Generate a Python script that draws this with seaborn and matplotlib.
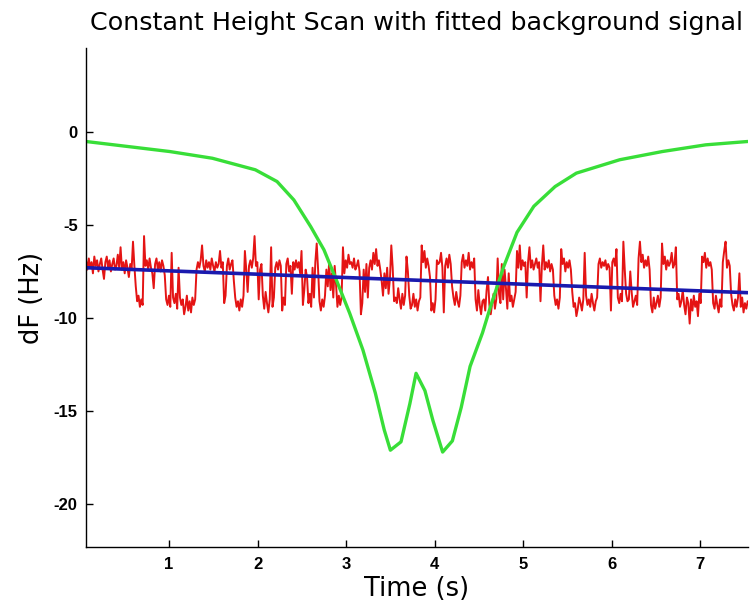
import numpy as np
import pandas as pd
import matplotlib
matplotlib.use("Agg")
import matplotlib.pyplot as plt
import seaborn as sns

# ---- data ----
green_t = [0.063, 1.01, 1.49, 1.975, 2.22, 2.41, 2.60, 2.75, 2.89, 3.04, 3.19, 3.33, 3.43,
           3.50, 3.62, 3.72, 3.79, 3.89, 3.98, 4.09, 4.20, 4.30, 4.40, 4.54, 4.63, 4.78,
           4.93, 5.12, 5.36, 5.60, 6.09, 6.57, 7.06, 7.535]
green_v = [-0.52, -1.06, -1.42, -2.04, -2.67, -3.66, -5.09, -6.34, -7.96, -9.74, -11.72,
           -14.03, -16.0, -17.1, -16.65, -14.6, -12.97, -13.9, -15.5, -17.2, -16.6, -14.8,
           -12.6, -10.8, -9.4, -7.24, -5.4, -4.0, -2.94, -2.22, -1.5, -1.06, -0.7, -0.52]

blue_t = [0.063, 7.535]
blue_v = [-7.3, -8.64]

red_v = [
    -6.9, -7.4, -6.8, -7.3, -7.0, -7.6, -6.7, -7.2, -6.9, -7.5, -7.1, -6.8, -7.4, -7.9, -7.0, -6.7,
    -7.3, -6.9, -7.5, -7.1, -6.8, -7.4, -7.2, -6.6, -7.3, -6.2, -7.4, -7.0, -7.6, -6.9, -7.3, -7.8,
    -7.1, -7.4, -5.9, -7.2, -8.3, -9.1, -8.8, -9.4, -9.0, -9.3, -5.6, -7.2, -6.9, -7.4, -6.8, -7.3,
    -7.6, -8.4, -7.1, -6.8, -7.4, -7.0, -7.5, -6.9, -7.2, -7.7, -9.0, -9.3, -8.8, -9.4, -6.5, -8.9,
    -9.2, -8.7, -9.5, -7.3, -8.9, -9.3, -9.0, -9.8, -9.4, -8.8, -9.6, -9.1, -9.7, -8.9, -9.3, -9.0,
    -7.4, -7.0, -7.3, -6.9, -6.1, -7.2, -7.5, -6.9, -7.3, -7.0, -7.4, -6.8, -7.2, -7.5, -7.0, -7.3,
    -7.1, -6.4, -7.3, -7.0, -9.2, -8.8, -7.2, -6.8, -7.4, -7.1, -6.9, -8.0, -8.9, -9.4, -9.1, -9.6,
    -9.0, -9.4, -8.8, -6.4, -7.4, -8.6, -7.2, -6.9, -7.3, -6.8, -5.6, -7.2, -7.0, -9.0, -7.4, -7.1,
    -8.8, -9.5, -8.6, -9.2, -9.7, -9.0, -6.2, -9.4, -8.9, -7.3, -7.0, -7.4, -6.9, -7.2, -9.6, -8.9,
    -9.3, -7.1, -6.8, -7.5, -7.2, -8.7, -7.0, -7.4, -6.9, -7.3, -7.0, -7.6, -6.4, -9.3, -8.5, -7.4,
    -7.8, -9.2, -8.7, -9.4, -7.3, -8.9, -7.0, -6.0, -7.4, -9.1, -9.6, -9.0, -9.4, -8.8, -7.4, -8.3,
    -7.0, -8.5, -7.6, -8.9, -7.2, -8.2, -9.4, -8.8, -9.3, -8.9, -6.2, -7.6, -6.9, -7.3, -6.6, -7.1,
    -7.0, -7.3, -6.8, -7.4, -7.2, -6.9, -7.5, -9.8, -9.2, -7.4, -8.6, -7.1, -8.9, -7.3, -6.9, -7.4,
    -6.5, -7.1, -6.3, -7.2, -6.9, -7.4, -8.0, -8.8, -7.6, -8.4, -7.3, -8.7, -7.9, -6.1, -7.3, -9.1,
    -8.9, -9.2, -8.4, -9.0, -9.5, -8.7, -9.3, -8.8, -6.7, -7.5, -8.8, -9.5, -9.3, -8.7, -9.4, -9.0,
    -9.6, -9.1, -8.9, -6.1, -7.0, -6.4, -7.3, -6.8, -7.2, -7.8, -9.6, -9.2, -9.7, -9.0, -6.9, -7.1,
    -7.0, -6.5, -7.3, -9.7, -7.2, -6.8, -7.3, -6.6, -7.1, -8.3, -8.9, -9.3, -8.6, -9.1, -9.4, -8.8,
    -7.0, -6.6, -7.3, -6.9, -7.2, -6.5, -7.4, -7.0, -7.3, -6.8, -9.0, -9.6, -8.5, -9.3, -9.8, -9.1,
    -9.0, -9.6, -8.5, -7.8, -9.3, -9.8, -9.2, -8.7, -9.5, -9.0, -6.8, -8.7, -9.2, -7.1, -9.0, -7.4,
    -8.4, -9.5, -7.6, -9.1, -8.8, -9.4, -9.0, -8.6, -6.4, -7.3, -6.1, -7.4, -6.9, -7.2, -7.0, -8.9,
    -7.0, -6.2, -7.3, -6.9, -7.4, -7.1, -6.8, -7.3, -7.0, -9.1, -7.2, -6.1, -7.4, -7.0, -7.3, -6.9,
    -7.5, -7.1, -7.4, -8.8, -9.3, -9.0, -9.5, -8.9, -6.3, -7.1, -6.8, -7.5, -7.0, -7.3, -6.9, -7.4,
    -8.6, -9.4, -9.2, -9.9, -9.5, -8.9, -9.2, -9.6, -9.0, -6.5, -8.8, -9.3, -9.0, -9.4, -8.7, -9.2,
    -9.6, -9.1, -8.9, -7.1, -6.8, -7.3, -7.0, -7.2, -6.9, -7.4, -7.1, -7.3, -9.6, -7.0, -6.8, -7.2,
    -6.3, -8.9, -9.2, -8.7, -9.1, -5.9, -7.4, -8.7, -9.1, -9.0, -7.5, -8.6, -9.4, -9.1, -8.8, -9.3,
    -6.8, -5.9, -7.0, -6.6, -7.3, -6.9, -7.2, -6.7, -7.4, -9.3, -9.7, -8.9, -9.5, -9.2, -8.8, -9.4,
    -8.9, -6.0, -7.1, -6.7, -7.4, -6.9, -7.2, -7.0, -6.5, -7.3, -7.1, -6.2, -9.0, -8.7, -9.4, -9.1,
    -8.5, -9.3, -9.8, -8.9, -9.2, -10.3, -9.0, -9.6, -8.8, -9.4, -9.1, -9.9, -8.7, -9.2, -6.7, -7.0,
    -6.5, -7.3, -6.8, -7.2, -7.0, -7.4, -9.2, -9.5, -8.8, -9.3, -9.7, -9.0, -9.4, -7.0, -6.4, -5.9,
    -7.3, -6.9, -7.2, -8.7, -9.3, -9.6, -9.0, -9.4, -8.9, -7.6, -9.4, -8.9, -9.7, -9.2, -9.5, -9.1,
]
red_t = np.linspace(0.063, 7.535, len(red_v))

x_ticks = [1, 2, 3, 4, 5, 6, 7]
y_ticks = [0, -5, -10, -15, -20]

# ---- style ----
sns.set_style("ticks")
plt.rcParams["font.family"] = ["Liberation Sans", "DejaVu Sans"]
plt.rcParams["axes.unicode_minus"] = False
plt.rcParams["text.color"] = "black"
plt.rcParams["axes.labelcolor"] = "black"

fig = plt.figure(figsize=(7.56, 6.08), dpi=100)
ax = fig.add_axes([0.1138, 0.1003, 0.989 - 0.1138, 0.921 - 0.1003])

df_red = pd.DataFrame({"t": red_t, "v": red_v})
df_green = pd.DataFrame({"t": green_t, "v": green_v})
df_blue = pd.DataFrame({"t": blue_t, "v": blue_v})

sns.lineplot(data=df_red, x="t", y="v", ax=ax, color="#e41414", linewidth=1.4, sort=False)
sns.lineplot(data=df_green, x="t", y="v", ax=ax, color="#38de38", linewidth=2.4, sort=False)
sns.lineplot(data=df_blue, x="t", y="v", ax=ax, color="#1a1aae", linewidth=2.6, sort=False)

ax.set_xlim(0.063, 7.535)
ax.set_ylim(-22.3, 4.5)
ax.set_xticks(x_ticks)
ax.set_yticks(y_ticks)
ax.set_xticklabels([str(v) for v in x_ticks], fontweight="bold", fontsize=12, color="black")
ax.set_yticklabels([str(v) for v in y_ticks], fontweight="bold", fontsize=12, color="black")
ax.tick_params(direction="in", length=5, width=1.0, colors="black")
ax.tick_params(axis="x", pad=7)
ax.tick_params(axis="y", pad=6)
for s in ["top", "right"]:
    ax.spines[s].set_visible(False)
for s in ["left", "bottom"]:
    ax.spines[s].set_color("black")
    ax.spines[s].set_linewidth(1.0)

label_font = ["DejaVu Sans"]
ax.set_xlabel("Time (s)", fontsize=18.5, labelpad=3, family=label_font, color="black")
ax.set_ylabel("dF (Hz)", fontsize=18.5, labelpad=6, family=label_font, color="black")
ax.set_title("Constant Height Scan with fitted background signal", fontsize=18.3,
             pad=13, family=label_font, color="black")

fig.savefig("out.png", dpi=100)
